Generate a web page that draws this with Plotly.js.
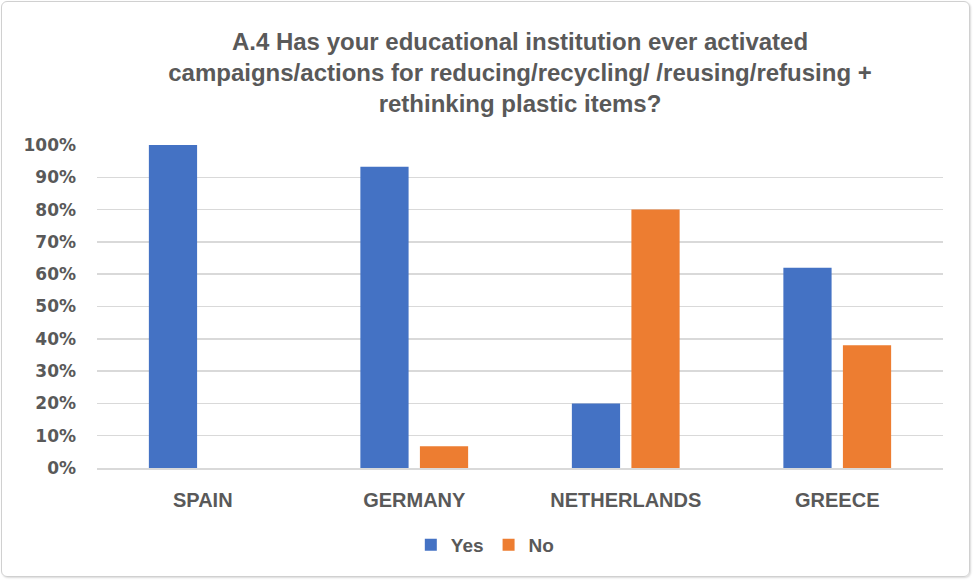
<!DOCTYPE html>
<html>
<head>
<meta charset="utf-8">
<script src="https://cdn.plot.ly/plotly-3.0.1.min.js"></script>
<style>
  html, body { margin: 0; padding: 0; background: #fff; }
  #wrap { position: relative; width: 973px; height: 580px; }
  #chart { position: absolute; left: 0; top: 0; width: 973px; height: 580px; }
  #frame { position: absolute; left: 1px; top: 1px; width: 967px; height: 574px;
           border: 1.5px solid #d0d0d0; border-radius: 6px; pointer-events: none;
           box-shadow: 1px 1px 2px rgba(0,0,0,0.15); }
</style>
</head>
<body>
<div id="wrap">
  <div id="chart"></div>
  <div id="frame"></div>
</div>
<script>
const categories = ["SPAIN", "GERMANY", "NETHERLANDS", "GREECE"];
const yesValues = [1.00, 0.933, 0.20, 0.62];
const noValues = [0.00, 0.067, 0.80, 0.38];
const yTickVals = [0, 0.1, 0.2, 0.3, 0.4, 0.5, 0.6, 0.7, 0.8, 0.9, 1.0];
const yTickText = ["0%", "10%", "20%", "30%", "40%", "50%", "60%", "70%", "80%", "90%", "100%"];
const titleText = "A.4 Has your educational institution ever activated<br>campaigns/actions for reducing/recycling/ /reusing/refusing +<br>rethinking plastic items?";

const textColor = "#595959";

const traces = [
  { type: "bar", name: "Yes", x: categories, y: yesValues, marker: { color: "#4472C4" }, hoverinfo: "x+y" },
  { type: "bar", name: "No", x: categories, y: noValues, marker: { color: "#ED7D31" }, hoverinfo: "x+y" }
];

const layout = {
  width: 973, height: 580,
  paper_bgcolor: "rgba(0,0,0,0)", plot_bgcolor: "#fff",
  margin: { l: 97, r: 30, t: 145, b: 112 },
  barmode: "group", bargap: 0.437, bargroupgap: 0.19,
  title: {
    text: titleText,
    font: { family: "Liberation Sans, Arial, sans-serif", size: 24, color: textColor, weight: "bold" },
    x: 0.5, xanchor: "center", xref: "paper", y: 0.914, yanchor: "middle", yref: "container"
  },
  xaxis: {
    type: "category", showgrid: false, zeroline: false,
    showline: true, linecolor: "#d9d9d9", linewidth: 1.5,
    ticks: "", ticklabelstandoff: 13,
    tickfont: { family: "Liberation Sans, Arial, sans-serif", size: 20, color: textColor, weight: "bold" }
  },
  yaxis: {
    range: [0, 1], tickvals: yTickVals, ticktext: yTickText,
    showgrid: true, gridcolor: "#d9d9d9", gridwidth: 1.5, zeroline: false,
    showline: false, ticks: "", ticklabelstandoff: 20,
    tickfont: { family: "DejaVu Sans, Verdana, sans-serif", size: 17, color: textColor, weight: "bold" }
  },
  showlegend: true,
  legend: {
    orientation: "h", x: 0.459, xanchor: "center", y: -0.238, yanchor: "middle",
    font: { family: "Liberation Sans, Arial, sans-serif", size: 19, color: textColor, weight: "bold" },
    itemwidth: 30, tracegroupgap: 0
  }
};

Plotly.newPlot("chart", traces, layout, { displayModeBar: false, staticPlot: true });
</script>
</body>
</html>
